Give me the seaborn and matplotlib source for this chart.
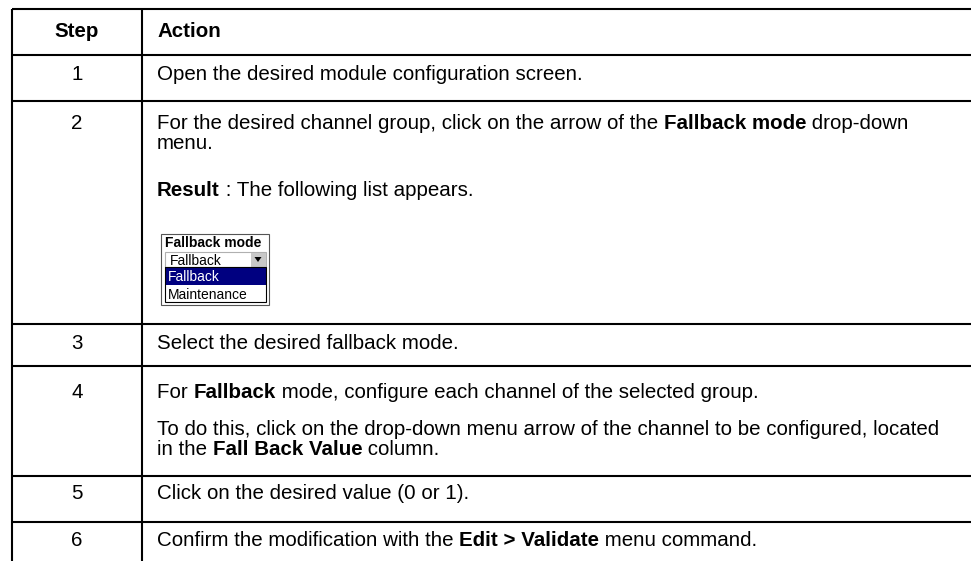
import matplotlib.pyplot as plt
import seaborn as sns
from matplotlib.patches import Rectangle, Polygon

# table content
header = ["Step", "Action"]
steps = ["1", "2", "3", "4", "5", "6"]
actions = [
    ["Open the desired module configuration screen."],
    ["For the desired channel group, click on the arrow of the **Fallback mode** drop-down",
     "menu.",
     "**Result** : The following list appears."],
    ["Select the desired fallback mode."],
    ["For **Fallback** mode, configure each channel of the selected group.",
     "To do this, click on the drop-down menu arrow of the channel to be configured, located",
     "in the **Fall Back Value** column."],
    ["Click on the desired value (0 or 1)."],
    ["Confirm the modification with the **Edit > Validate** menu command."],
]

# drop-down screenshot content
menu_title = "Fallback mode"
menu_current = "Fallback"
menu_options = ["Fallback", "Maintenance"]
menu_selected = 0

# layout (pixels, y downwards)
W, H = 971, 561
left, col_x, right = 12, 142, 971
row_edges = [9, 54.5, 101, 324, 366, 476, 522]
header_base = 37
baselines = [[80], [129, 149, 196], [349], [398, 435, 455], [499], [546]]
text_x = 157
fs = 14.8

sns.set_theme(style="white")
plt.rcParams["font.family"] = ["Liberation Sans", "DejaVu Sans"]
plt.rcParams["text.color"] = "black"

fig = plt.figure(figsize=(W / 100, H / 100), dpi=100)
ax = fig.add_axes([0, 0, 1, 1])
ax.set_xlim(0, W)
ax.set_ylim(H, 0)
ax.axis("off")
renderer = fig.canvas.get_renderer()


def text_width(s, weight, size):
    # measure with a guard char so trailing spaces count
    t1 = ax.text(0, 0, s + "|", fontsize=size, fontweight=weight)
    t2 = ax.text(0, 0, "|", fontsize=size, fontweight=weight)
    w = t1.get_window_extent(renderer).width - t2.get_window_extent(renderer).width
    t1.remove()
    t2.remove()
    return w


def rich_line(x, y, s, size=fs, color="black"):
    for i, part in enumerate(s.split("**")):
        if not part:
            continue
        weight = "bold" if i % 2 else "normal"
        ax.text(x, y, part, fontsize=size, fontweight=weight, color=color,
                va="baseline", ha="left")
        x += text_width(part, weight, size)


# grid lines
lw = 1.5
ax.hlines(row_edges, left, right, color="black", lw=lw)
ax.vlines([left, col_x], row_edges[0], H, color="black", lw=lw)

# header
ax.text((left + col_x) / 2, header_base, header[0], fontsize=fs, fontweight="bold",
        ha="center", va="baseline")
ax.text(text_x, header_base, header[1], fontsize=fs, fontweight="bold",
        ha="left", va="baseline")

# body rows
for step, lines, bl in zip(steps, actions, baselines):
    ax.text((left + col_x) / 2, bl[0], step, fontsize=fs, ha="center", va="baseline")
    for line, y in zip(lines, bl):
        rich_line(text_x, y, line)

# drop-down widget (row 2)
mfs = 10
ax.add_patch(Rectangle((161, 234), 108, 71, fill=False, ec="#555555", lw=0.8))
ax.text(165, 247, menu_title, fontsize=mfs, fontweight="bold", va="baseline")
ax.add_patch(Rectangle((165, 252), 101, 15, fc="white", ec="#b0b0b0", lw=0.8))
ax.text(170, 264.5, menu_current, fontsize=mfs, va="baseline")
ax.add_patch(Rectangle((251, 252.5), 14.5, 14, fc="#c8c8c8", ec="none"))
ax.add_patch(Polygon([(254.5, 257), (261.5, 257), (258, 262)], closed=True,
                     fc="black", ec="none"))
opt_top, opt_h = 267, 17.5
for k, opt in enumerate(menu_options):
    y0 = opt_top + k * opt_h
    sel = k == menu_selected
    if sel:
        ax.add_patch(Rectangle((165, y0), 101, opt_h, fc="#000080", ec="none"))
    ax.text(168, y0 + opt_h - 3.5, opt, fontsize=mfs, va="baseline",
            color="white" if sel else "black")
ax.add_patch(Rectangle((165, opt_top), 101, opt_h * len(menu_options), fill=False,
                       ec="black", lw=0.8))

fig.savefig("out.png", dpi=100)
